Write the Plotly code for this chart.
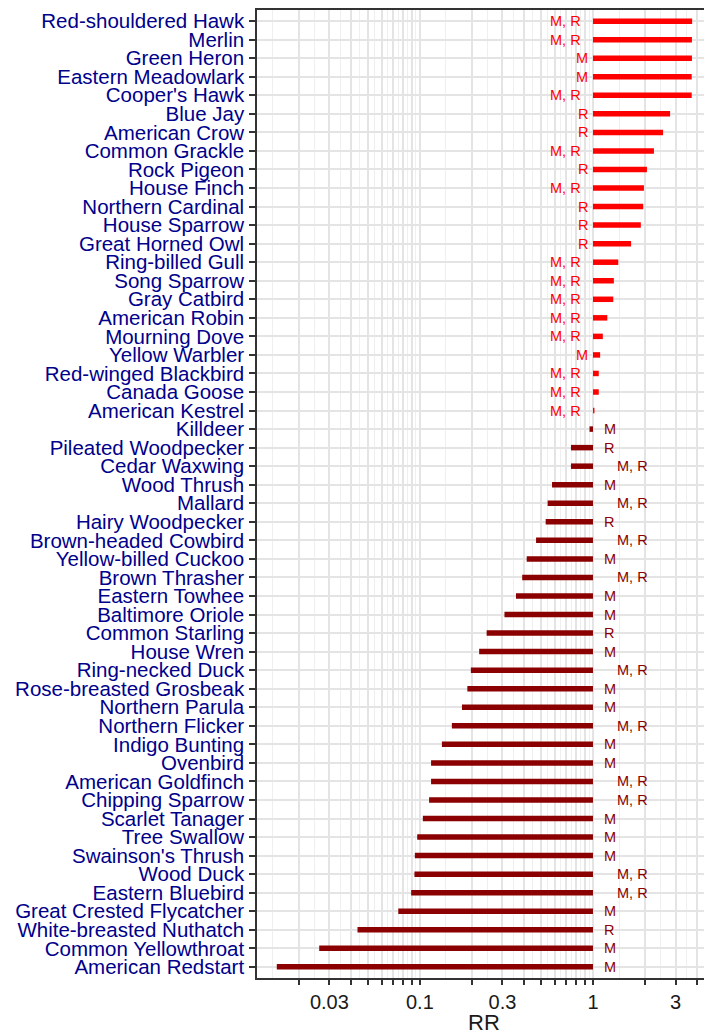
import plotly.graph_objects as go
import math

species = [
    "Red-shouldered Hawk", "Merlin", "Green Heron", "Eastern Meadowlark", "Cooper's Hawk",
    "Blue Jay", "American Crow", "Common Grackle", "Rock Pigeon", "House Finch",
    "Northern Cardinal", "House Sparrow", "Great Horned Owl", "Ring-billed Gull", "Song Sparrow",
    "Gray Catbird", "American Robin", "Mourning Dove", "Yellow Warbler", "Red-winged Blackbird",
    "Canada Goose", "American Kestrel", "Killdeer", "Pileated Woodpecker", "Cedar Waxwing",
    "Wood Thrush", "Mallard", "Hairy Woodpecker", "Brown-headed Cowbird", "Yellow-billed Cuckoo",
    "Brown Thrasher", "Eastern Towhee", "Baltimore Oriole", "Common Starling", "House Wren",
    "Ring-necked Duck", "Rose-breasted Grosbeak", "Northern Parula", "Northern Flicker", "Indigo Bunting",
    "Ovenbird", "American Goldfinch", "Chipping Sparrow", "Scarlet Tanager", "Tree Swallow",
    "Swainson's Thrush", "Wood Duck", "Eastern Bluebird", "Great Crested Flycatcher", "White-breasted Nuthatch",
    "Common Yellowthroat", "American Redstart",
]

rr = [
    3.74, 3.73, 3.73, 3.72, 3.72,
    2.79, 2.54, 2.25, 2.05, 1.97,
    1.95, 1.89, 1.66, 1.40, 1.32,
    1.31, 1.21, 1.14, 1.10, 1.08,
    1.08, 1.02, 0.955, 0.746, 0.746,
    0.58, 0.547, 0.533, 0.469, 0.414,
    0.39, 0.359, 0.308, 0.243, 0.22,
    0.197, 0.188, 0.175, 0.153, 0.134,
    0.116, 0.116, 0.113, 0.104, 0.0965,
    0.0935, 0.093, 0.089, 0.075, 0.0436,
    0.0262, 0.0149,
]

model = [
    "M, R", "M, R", "M", "M", "M, R",
    "R", "R", "M, R", "R", "M, R",
    "R", "R", "R", "M, R", "M, R",
    "M, R", "M, R", "M, R", "M", "M, R",
    "M, R", "M, R", "M", "R", "M, R",
    "M", "M, R", "R", "M, R", "M",
    "M, R", "M", "M", "R", "M",
    "M, R", "M", "M", "M, R", "M",
    "M", "M, R", "M, R", "M", "M",
    "M", "M, R", "M, R", "M", "R",
    "M", "M",
]

major_breaks = [0.02, 0.03, 0.04, 0.05, 0.06, 0.07, 0.08, 0.09,
                0.1, 0.2, 0.3, 0.4, 0.5, 0.6, 0.7, 0.8, 0.9,
                1, 2, 3, 4]
labelled = {0.03: "0.03", 0.1: "0.1", 0.3: "0.3", 1: "1", 3: "3"}

UP = "#FF0000"
DOWN = "#8B0000"
FONT = "Liberation Sans, Arial, sans-serif"

fig = go.Figure()

# bars as thick segments from RR = 1
for color, cond in [(UP, lambda v: v > 1), (DOWN, lambda v: v <= 1)]:
    xs, ys = [], []
    for s, v in zip(species, rr):
        if cond(v):
            xs += [1, v, None]
            ys += [s, s, None]
    fig.add_trace(go.Scatter(x=xs, y=ys, mode="lines",
                             line=dict(color=color, width=5.5),
                             hoverinfo="skip", showlegend=False))

annotations = []
for s, v, m in zip(species, rr, model):
    if v > 1:
        shift = -10 if m == "M, R" else -3
        annotations.append(dict(x=0, y=s, xref="x", yref="y", text=m, showarrow=False,
                                xanchor="right", yanchor="middle", xshift=shift,
                                font=dict(color=UP, size=14.5, family=FONT)))
    else:
        shift = 22 if m == "M, R" else 9
        annotations.append(dict(x=0, y=s, xref="x", yref="y", text=m, showarrow=False,
                                xanchor="left", yanchor="middle", xshift=shift,
                                font=dict(color=DOWN, size=14.5, family=FONT)))

annotations.append(dict(x=0.508, y=-0.046, xref="paper", yref="paper", text="RR",
                        showarrow=False, xanchor="center", yanchor="middle",
                        font=dict(size=22, color="#1a1a1a", family=FONT)))

# minor breaks: log midpoints between major breaks
ext = [0.01] + major_breaks + [5]
minor_breaks = [math.sqrt(a * b) for a, b in zip(ext[:-1], ext[1:])]

fig.update_layout(
    width=704, height=1034,
    margin=dict(l=257, r=0, t=10, b=56, autoexpand=False),
    paper_bgcolor="white", plot_bgcolor="white",
    font=dict(family=FONT),
    annotations=annotations,
    xaxis=dict(
        type="log",
        range=[math.log10(0.01145), math.log10(4.38)],
        tickmode="array",
        tickvals=major_breaks,
        ticktext=[labelled.get(b, "") for b in major_breaks],
        ticks="outside", ticklen=5, tickwidth=1.5, tickcolor="#333333",
        tickfont=dict(size=20, color="#1a1a1a"),
        showgrid=True, gridcolor="#E4E4E4", gridwidth=1.7,
        minor=dict(tickmode="array", tickvals=minor_breaks, showgrid=True,
                   gridcolor="#EFEFEF", gridwidth=0.9, ticklen=0),
        showline=True, linecolor="#333333", linewidth=1.5, mirror=True,
        zeroline=False, automargin=False,
        ticklabelstandoff=0,
    ),
    yaxis=dict(
        type="category",
        categoryorder="array", categoryarray=species,
        tickmode="array", tickvals=species, ticktext=species,
        range=[len(species) - 1 + 0.6, -0.6],
        ticks="outside", ticklen=6, tickwidth=1.5, tickcolor="#333333",
        tickfont=dict(size=20.5, color="#00008B"),
        showgrid=True, gridcolor="#E4E4E4", gridwidth=1.7,
        showline=True, linecolor="#333333", linewidth=1.5,
        zeroline=False, automargin=False,
        ticklabelstandoff=1,
    ),
)

fig.write_html("out.html", config={"displayModeBar": False},
               post_script="document.body.style.margin='0';")
